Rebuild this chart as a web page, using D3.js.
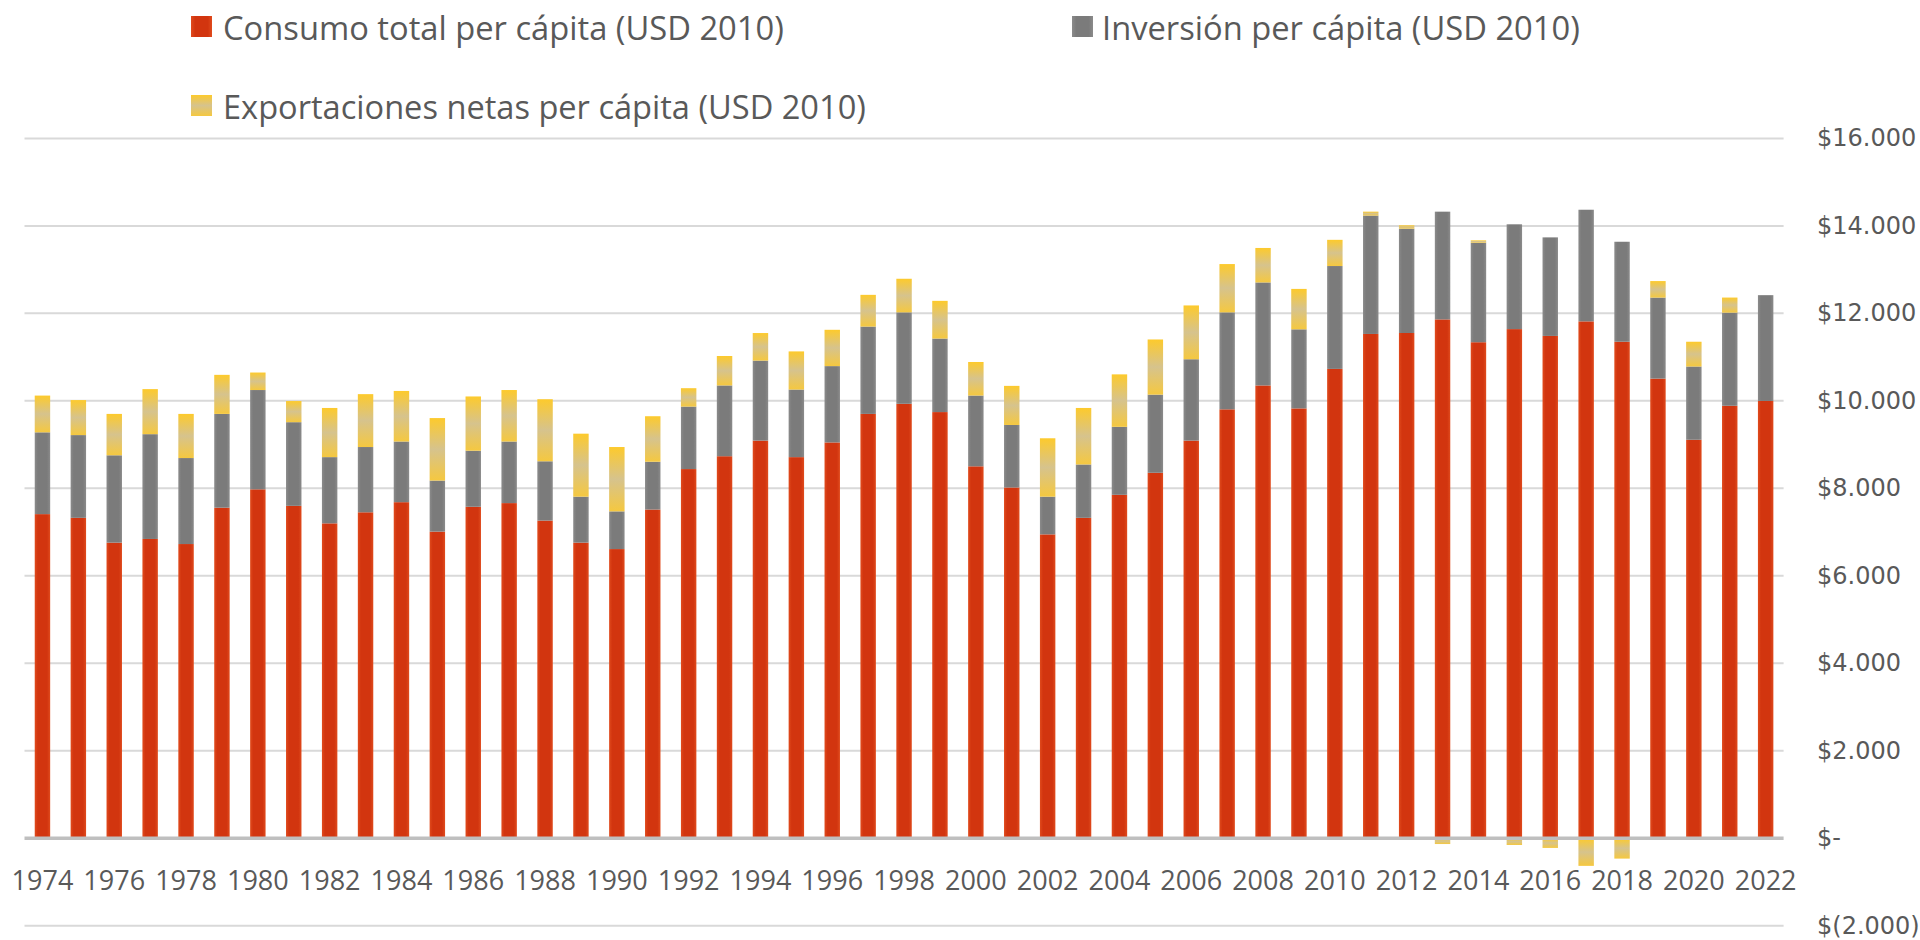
<!DOCTYPE html>
<html>
<head>
<meta charset="utf-8">
<script src="https://cdn.jsdelivr.net/npm/d3@7"></script>
<style>
    body { margin: 0; background: #fff; }
    svg { display: block; }
</style>
</head>
<body>
<svg id="chart" width="1920" height="940"></svg>
<script>
// values (USD 2010 per capita)
const years = [1974, 1975, 1976, 1977, 1978, 1979, 1980, 1981, 1982, 1983, 1984, 1985, 1986, 1987, 1988, 1989,
    1990, 1991, 1992, 1993, 1994, 1995, 1996, 1997, 1998, 1999, 2000, 2001, 2002, 2003, 2004, 2005, 2006,
    2007, 2008, 2009, 2010, 2011, 2012, 2013, 2014, 2015, 2016, 2017, 2018, 2019, 2020, 2021, 2022];

const consumo = [7410, 7325, 6758, 6842, 6726, 7557, 7977, 7599, 7199, 7452, 7683, 7010, 7578, 7662, 7262, 6758,
    6611, 7515, 8440, 8734, 9091, 8713, 9049, 9701, 9932, 9743, 8503, 8019, 6947, 7325, 7851, 8355, 9091,
    9806, 10352, 9827, 10730, 11529, 11551, 11862, 11340, 11640, 11484, 11817, 11351, 10508, 9110, 9887, 9997];

const inversion = [1870, 1892, 1997, 2396, 1966, 2144, 2270, 1913, 1514, 1492, 1387, 1167, 1282, 1408, 1356, 1051,
    862, 1093, 1429, 1618, 1829, 1545, 1745, 1997, 2091, 1681, 1618, 1429, 862, 1220, 1555, 1787, 1860,
    2217, 2355, 1808, 2352, 2707, 2386, 2463, 2275, 2396, 2253, 2552, 2286, 1853, 1675, 2130, 2419];

const exportaciones = [840, 800, 946, 1030, 1009, 893, 400, 483, 1124, 1209, 1156, 1429, 1240, 1177, 1419, 1440,
    1471, 1040, 420, 673, 630, 872, 830, 725, 768, 862, 767, 894, 1335, 1292, 1199, 1261, 1230,
    1104, 788, 924, 599, 89, 77, -133, 55, -155, -222, -632, -466, 377, 566, 344, 0];

const seriesNames = [
    "Consumo total per cápita (USD 2010)",
    "Inversión per cápita (USD 2010)",
    "Exportaciones netas per cápita (USD 2010)"
];

const yTicks = [-2000, 0, 2000, 4000, 6000, 8000, 10000, 12000, 14000, 16000];

const keys = ["consumo", "inversion", "exportaciones"];
const rows = years.map((yr, i) => ({
    year: yr,
    consumo: consumo[i],
    inversion: inversion[i],
    exportaciones: exportaciones[i]
}));

const svg = d3.select("#chart");
const defs = svg.append("defs");

// gradients roughly like the office-style fills
function gradient(id, vertical, stops) {
    const g = defs.append("linearGradient")
        .attr("id", id)
        .attr("x1", 0).attr("y1", 0)
        .attr("x2", vertical ? 0 : 1).attr("y2", vertical ? 1 : 0);
    stops.forEach(s => g.append("stop").attr("offset", s[0]).attr("stop-color", s[1]));
}
gradient("g-consumo", false, [[0, "#e04b1d"], [0.2, "#d2350f"], [0.8, "#d2350f"], [1, "#e04b1d"]]);
gradient("g-inversion", false, [[0, "#8b8b8b"], [0.2, "#7b7b7b"], [0.8, "#7b7b7b"], [1, "#8b8b8b"]]);
gradient("g-exportaciones", true, [[0, "#fdca2c"], [0.5, "#d6c38d"], [1, "#f5c840"]]);

const fills = {
    consumo: "url(#g-consumo)",
    inversion: "url(#g-inversion)",
    exportaciones: "url(#g-exportaciones)"
};

const x = d3.scaleBand()
    .domain(years)
    .range([24.5, 1783.6])
    .paddingInner(0.57)
    .paddingOuter(0.285);

const y = d3.scaleLinear()
    .domain([-2000, 16000])
    .range([925.7, 138.4]);

const locale = d3.formatLocale({decimal: ",", thousands: ".", grouping: [3], currency: ["$", ""]});
const fmt = locale.format(",.0f");
const yLabel = v => v === 0 ? "$-" : (v < 0 ? "$(" + fmt(-v) + ")" : "$" + fmt(v));

// gridlines
svg.append("g").attr("class", "grid")
    .selectAll("line")
    .data(yTicks.filter(d => d !== 0))
    .join("line")
    .attr("x1", 24.5).attr("x2", 1783.6)
    .attr("y1", d => y(d)).attr("y2", d => y(d))
    .attr("stroke", "#d9d9d9")
    .attr("stroke-width", 2);

// stacked bars
const stacked = d3.stack().keys(keys).offset(d3.stackOffsetDiverging)(rows);

svg.append("g").attr("class", "bars")
    .selectAll("g")
    .data(stacked)
    .join("g")
    .attr("fill", d => fills[d.key])
    .selectAll("rect")
    .data(d => d)
    .join("rect")
    .attr("x", d => x(d.data.year))
    .attr("width", x.bandwidth())
    .attr("y", d => y(Math.max(d[0], d[1])))
    .attr("height", d => Math.abs(y(d[0]) - y(d[1])));

// zero line sits on top of the bars
svg.append("line")
    .attr("x1", 24.5).attr("x2", 1783.6)
    .attr("y1", y(0)).attr("y2", y(0))
    .attr("stroke", "#bfbfbf")
    .attr("stroke-width", 3.5);

// y labels on the right
svg.append("g").attr("class", "y-labels")
    .selectAll("text")
    .data(yTicks)
    .join("text")
    .attr("x", 1817)
    .attr("y", d => y(d))
    .attr("dominant-baseline", "central")
    .style("font-family", "'DejaVu Sans', Verdana, sans-serif")
    .style("font-size", "24px")
    .attr("fill", "#595959")
    .text(yLabel);

// x labels, every other year
svg.append("g").attr("class", "x-labels")
    .selectAll("text")
    .data(years.filter((d, i) => i % 2 === 0))
    .join("text")
    .attr("x", d => x(d) + x.bandwidth() / 2)
    .attr("y", 879)
    .attr("text-anchor", "middle")
    .attr("dominant-baseline", "central")
    .style("font-family", "'Open Sans', sans-serif")
    .style("font-size", "27px")
    .attr("fill", "#595959")
    .text(d => d);

// legend
const legendPos = [
    {key: "consumo", sx: 191, sy: 16, tx: 223, ty: 27, w: 561},
    {key: "inversion", sx: 1072, sy: 16, tx: 1102, ty: 27, w: 478},
    {key: "exportaciones", sx: 191, sy: 95, tx: 223, ty: 106, w: 643}
];
const legend = svg.append("g").attr("class", "legend");
legendPos.forEach((p, i) => {
    legend.append("rect")
        .attr("x", p.sx).attr("y", p.sy)
        .attr("width", 21).attr("height", 21)
        .attr("fill", fills[p.key]);
    const t = legend.append("text")
        .attr("x", p.tx).attr("y", p.ty)
        .attr("dominant-baseline", "central")
        .style("font-family", "'Open Sans', sans-serif")
        .style("font-size", "32px")
        .attr("fill", "#595959")
        .text(seriesNames[i]);
    // scale font so the label spans about the same width as the reference
    const len = t.node().getComputedTextLength();
    t.style("font-size", (32 * p.w / len).toFixed(2) + "px");
});
</script>
</body>
</html>
